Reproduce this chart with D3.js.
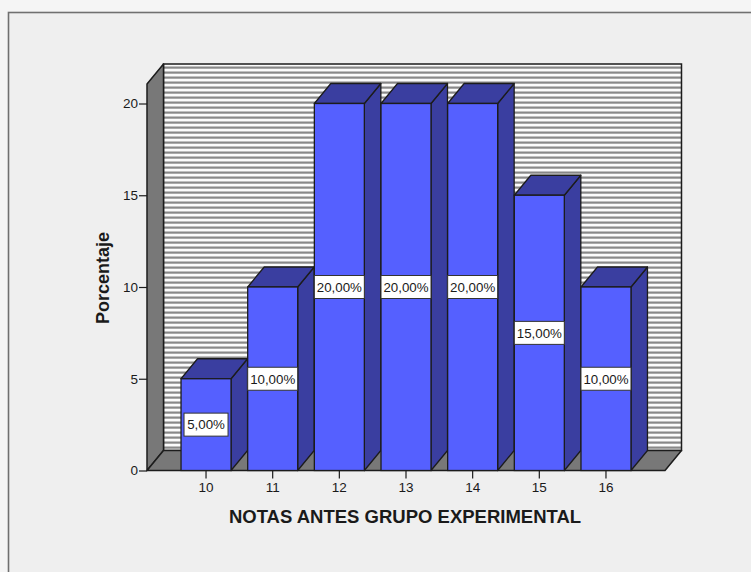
<!DOCTYPE html>
<html>
<head>
<meta charset="utf-8">
<script src="https://cdn.jsdelivr.net/npm/d3@7/dist/d3.min.js"></script>
<style>
html,body{margin:0;padding:0;background:#f5f5f5;overflow:hidden}
text{font-family:"Liberation Sans",Arial,sans-serif;fill:#1a1a1a}
</style>
</head>
<body>
<svg id="chart" width="751" height="572"></svg>
<script>
// Frequency of grades before the experimental group's intervention
const categories = ["10","11","12","13","14","15","16"];
const percentages = [5,10,20,20,20,15,10];
const percentLabels = ["5,00%","10,00%","20,00%","20,00%","20,00%","15,00%","10,00%"];
const yTicks = [0,5,10,15,20];
const xTitle = "NOTAS ANTES GRUPO EXPERIMENTAL";
const yTitle = "Porcentaje";

const svg = d3.select("#chart");
const depthX = 16.5, depthY = 20;
const x0 = 147, x1 = 665, yBase = 470.5, yTop = 84;

const y = d3.scaleLinear().domain([0,20]).range([yBase,103.5]);
const x = d3.scaleBand().domain(categories).range([172.7,639.3]).paddingInner(0.25).paddingOuter(0.125);

const ink = "#1c1c1c", wallGrey = "#787878", front = "#5560ff", dark = "#3a3ea0";

// Panel behind the chart
svg.append("rect").attr("x",8.5).attr("y",12.5).attr("width",760).attr("height",580)
  .attr("fill","#efefef").attr("stroke","#707070").attr("stroke-width",1.6);

// Striped back wall
const defs = svg.append("defs");
const pat = defs.append("pattern").attr("id","stripes").attr("patternUnits","userSpaceOnUse")
  .attr("width",5).attr("height",5).attr("y",yTop-depthY+2);
pat.append("rect").attr("width",5).attr("height",5).attr("fill","#fbfbfb");
pat.append("rect").attr("y",0).attr("width",5).attr("height",1).attr("fill","#c0c0c0");
pat.append("rect").attr("y",1).attr("width",5).attr("height",1.7).attr("fill","#888888");

svg.append("rect").attr("x",x0+depthX).attr("y",yTop-depthY)
  .attr("width",x1-x0).attr("height",yBase-yTop)
  .attr("fill","url(#stripes)").attr("stroke",ink).attr("stroke-width",1.5);

// Side wall and floor
svg.append("path")
  .attr("d",`M${x0},${yBase}V${yTop}l${depthX},${-depthY}V${yBase-depthY}Z`)
  .attr("fill",wallGrey).attr("stroke",ink).attr("stroke-width",1.5).attr("stroke-linejoin","round");
svg.append("path")
  .attr("d",`M${x0},${yBase}l${depthX},${-depthY}H${x1+depthX}l${-depthX},${depthY}Z`)
  .attr("fill",wallGrey).attr("stroke",ink).attr("stroke-width",1.5).attr("stroke-linejoin","round");

// Three-dimensional bars
const bars = svg.append("g").selectAll("g").data(categories).join("g");
const rows = (c,i)=>({l:x(c),r:x(c)+x.bandwidth(),t:y(percentages[i])});
bars.append("path")
  .attr("d",(c,i)=>{const b=rows(c,i);return `M${b.r},${yBase}l${depthX},${-depthY}V${b.t-depthY}l${-depthX},${depthY}Z`;})
  .attr("fill",dark).attr("stroke",ink).attr("stroke-width",1.3).attr("stroke-linejoin","round");
bars.append("path")
  .attr("d",(c,i)=>{const b=rows(c,i);return `M${b.l},${b.t}l${depthX},${-depthY}H${b.r+depthX}l${-depthX},${depthY}Z`;})
  .attr("fill",dark).attr("stroke",ink).attr("stroke-width",1.3).attr("stroke-linejoin","round");
bars.append("rect")
  .attr("x",c=>x(c)).attr("width",x.bandwidth())
  .attr("y",(c,i)=>y(percentages[i])).attr("height",(c,i)=>yBase-y(percentages[i]))
  .attr("fill",front).attr("stroke",ink).attr("stroke-width",1.3);

// Axes
const yAxis = d3.axisLeft(y).tickValues(yTicks).tickSize(8).tickPadding(1);
const yG = svg.append("g").attr("transform",`translate(${x0},0)`).call(yAxis);
const xAxis = d3.axisBottom(x).tickSize(8).tickPadding(4);
const xG = svg.append("g").attr("transform",`translate(0,${yBase})`).call(xAxis);
[yG,xG].forEach(g=>{
  g.select(".domain").remove();
  g.selectAll("line").attr("stroke",ink).attr("stroke-width",1.2);
  g.selectAll("text").attr("font-size",13.5).attr("font-family",'"Liberation Sans",Arial,sans-serif');
});

// Value labels centred on each bar's height
const labels = svg.append("g").selectAll("g").data(categories).join("g")
  .attr("transform",(c,i)=>`translate(${x(c)+x.bandwidth()/2},${y(percentages[i]/2)})`);
labels.each(function(c,i){
  const g = d3.select(this);
  g.append("text").attr("text-anchor","middle").attr("dy","0.36em")
    .attr("font-size",13.3).text(percentLabels[i]);
  const w = i===0 ? 44 : x.bandwidth();
  g.insert("rect","text").attr("x",-w/2).attr("y",-11.5).attr("width",w).attr("height",23)
    .attr("fill","#fff").attr("stroke","#333").attr("stroke-width",1);
});

// Axis titles
svg.append("text").attr("x",405).attr("y",522.5).attr("text-anchor","middle")
  .attr("font-size",18.5).attr("font-weight","bold").text(xTitle);
svg.append("text").attr("transform","translate(109,278) rotate(-90)").attr("text-anchor","middle")
  .attr("font-size",18).attr("font-weight","bold").text(yTitle);
</script>
</body>
</html>
